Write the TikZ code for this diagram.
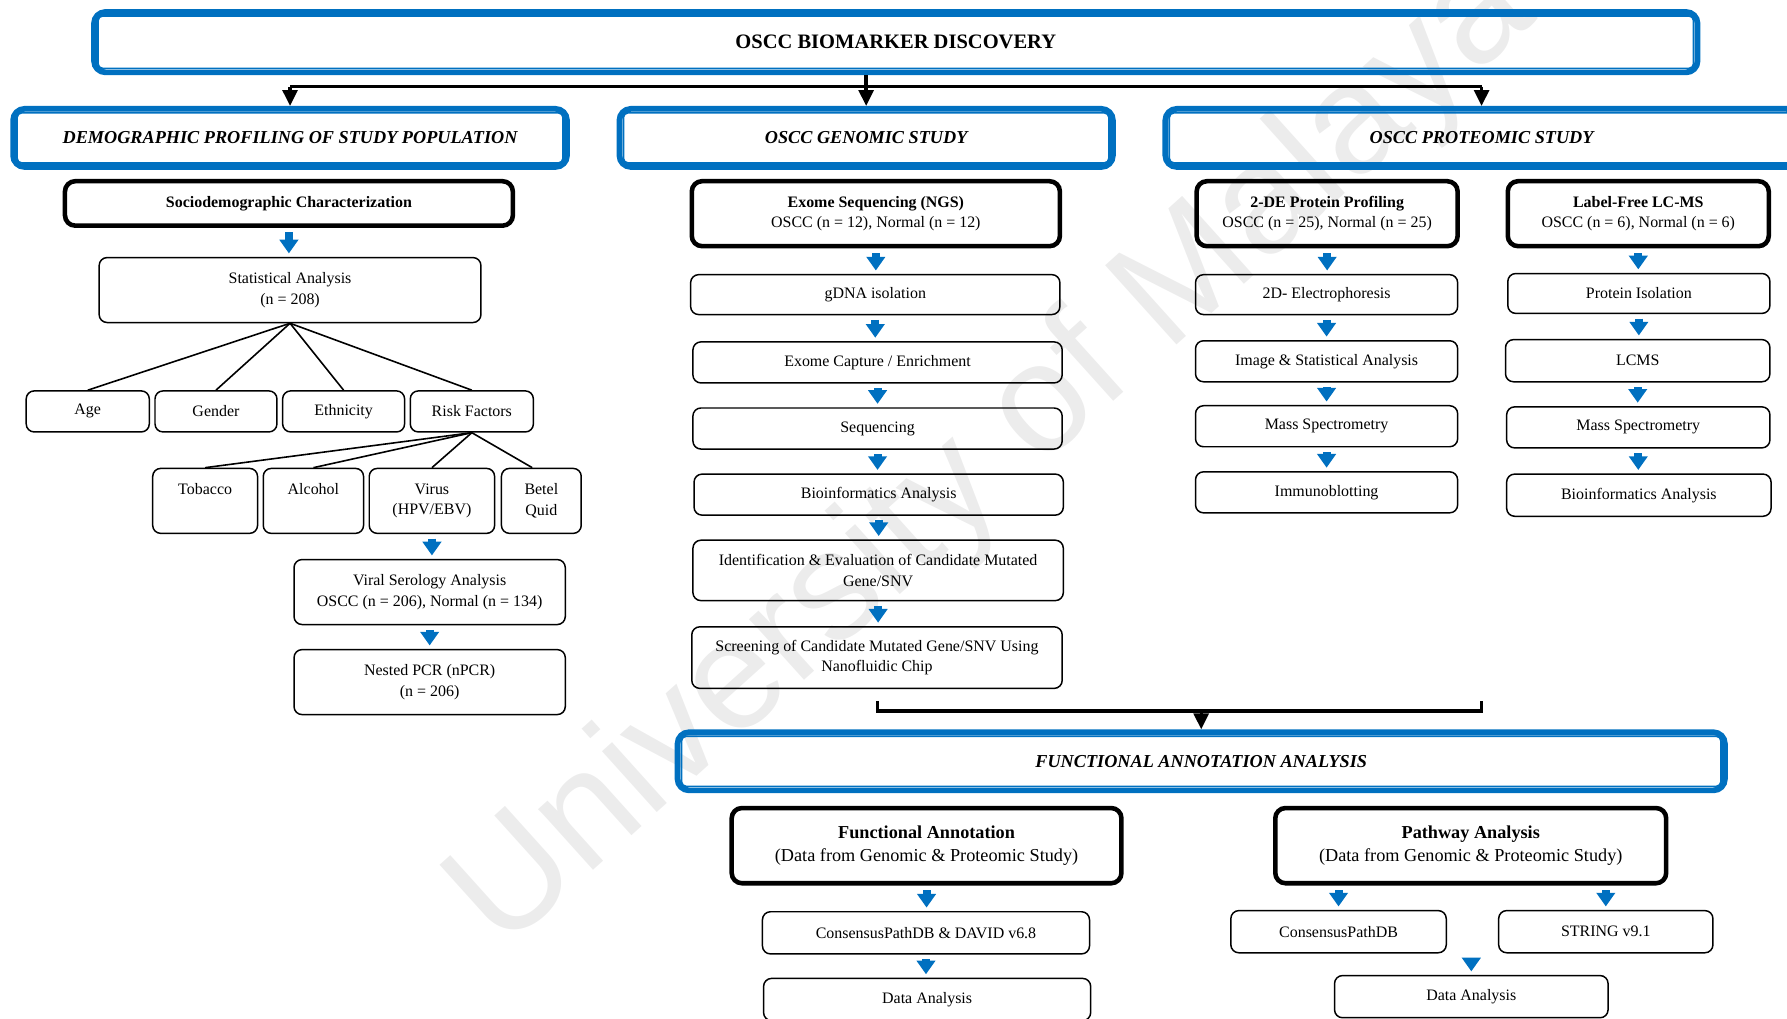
\documentclass[tikz,border=0pt]{standalone}
\usepackage{fontspec}
\setmainfont{Liberation Serif}
\newfontfamily\wmfont{Liberation Sans}
\usetikzlibrary{arrows.meta, positioning}
\definecolor{oblue}{HTML}{0070C0}

\begin{document}
\begin{tikzpicture}[x=1pt, y=-1pt,
    every node/.style={align=center, inner sep=1pt, font=\fontsize{14}{18}\selectfont},
    box/.style={draw, rounded corners=7pt, line width=1.3pt},
    mainbox/.style={draw, rounded corners=9pt, line width=4pt},
    hdr/.style={draw=oblue, rounded corners=10pt, line width=5pt, font=\fontsize{16}{19}\selectfont\bfseries\itshape},
    link/.style={draw, line width=1.4pt},
    bar/.style={draw, line width=3pt},
    down/.style={bar, -{Triangle[width=13pt,length=14pt]}},
    flow/.style={draw=oblue, line width=7pt, -{Triangle[width=16pt,length=12pt]}, shorten <=4pt, shorten >=3pt}
    ]

    \useasboundingbox (0,0) rectangle (1568,894);
    \clip (0,0) rectangle (1568,894);

    % watermark
    \node[rotate=42, text=gray!15, font=\wmfont\fontsize{136}{136}\selectfont] (wm) at (872,400) {University of Malaya};

    % headers
    \node[hdr, font=\fontsize{18}{22}\selectfont\bfseries, minimum width=1407, minimum height=53] (title) at (786,37) {OSCC BIOMARKER DISCOVERY};
    \node[hdr, minimum width=486, minimum height=51] (demo) at (254.5,121) {DEMOGRAPHIC PROFILING OF STUDY POPULATION};
    \node[hdr, minimum width=433, minimum height=51] (gen) at (760,121) {OSCC GENOMIC STUDY};
    \node[hdr, minimum width=555, minimum height=51] (prot) at (1300,121) {OSCC PROTEOMIC STUDY};
    \node[hdr, minimum width=919, minimum height=51] (funchdr) at (1054,668) {FUNCTIONAL ANNOTATION ANALYSIS};
    \foreach \n in {title, demo, gen, prot, funchdr}
      \draw[oblue, line width=1.5pt, rounded corners=4pt] ([shift={(6pt,-6pt)}]\n.north west) rectangle ([shift={(-6pt,6pt)}]\n.south east);

    % demographic profiling
    \node[mainbox, minimum width=393, minimum height=39] (socio) at (253.5,178.5) {\textbf{Sociodemographic Characterization}};
    \node[box, minimum width=335, minimum height=57] (stat) at (254.5,254.5) {Statistical Analysis\\(n = 208)};
    \node[box, minimum width=108, minimum height=36] (age) at (77,361) {Age};
    \node[box, minimum width=107, minimum height=36] (gender) at (189.5,361) {Gender};
    \node[box, minimum width=107, minimum height=36] (ethn) at (301.5,361) {Ethnicity};
    \node[box, minimum width=108, minimum height=36] (risk) at (414,361) {Risk Factors};
    \node[box, minimum width=92, minimum height=57] (tob) at (180,439.5) {Tobacco\\\phantom{(}};
    \node[box, minimum width=88, minimum height=57] (alc) at (275,439.5) {Alcohol\\\phantom{(}};
    \node[box, minimum width=110, minimum height=57] (virus) at (379,439.5) {Virus\\(HPV/EBV)};
    \node[box, minimum width=70, minimum height=57] (betel) at (475,439.5) {Betel\\Quid};
    \node[box, minimum width=238, minimum height=57] (sero) at (377,519.5) {Viral Serology Analysis\\OSCC (n = 206), Normal (n = 134)};
    \node[box, minimum width=238, minimum height=57] (npcr) at (377,598.5) {Nested PCR (nPCR)\\(n = 206)};

    % genomic study
    \node[mainbox, minimum width=323, minimum height=57] (exome) at (768.5,187.5) {\textbf{Exome Sequencing (NGS)}\\OSCC (n = 12), Normal (n = 12)};
    \node[box, minimum width=324, minimum height=35] (gdna) at (768,258.5) {gDNA isolation};
    \node[box, minimum width=324, minimum height=36] (capt) at (770,318) {Exome Capture / Enrichment};
    \node[box, minimum width=324, minimum height=36] (seq) at (770,376) {Sequencing};
    \node[box, minimum width=324, minimum height=36] (bioA) at (771,434) {Bioinformatics Analysis};
    \node[box, minimum width=325, minimum height=53] (ident) at (770.5,500.5) {Identification \& Evaluation of Candidate Mutated\\Gene/SNV};
    \node[box, minimum width=325, minimum height=54] (screen) at (769.5,577) {Screening of Candidate Mutated Gene/SNV Using\\Nanofluidic Chip};

    % proteomic study
    \node[mainbox, minimum width=229, minimum height=57] (twode) at (1164.5,187.5) {\textbf{2-DE Protein Profiling}\\OSCC (n = 25), Normal (n = 25)};
    \node[box, minimum width=230, minimum height=35] (elec) at (1164,258.5) {2D- Electrophoresis};
    \node[box, minimum width=230, minimum height=36] (img) at (1164,317) {Image \& Statistical Analysis};
    \node[box, minimum width=230, minimum height=36] (msA) at (1164,374) {Mass Spectrometry};
    \node[box, minimum width=230, minimum height=36] (immu) at (1164,432) {Immunoblotting};
    \node[mainbox, minimum width=229, minimum height=57] (lfree) at (1437.5,187.5) {\textbf{Label-Free LC-MS}\\OSCC (n = 6), Normal (n = 6)};
    \node[box, minimum width=230, minimum height=35] (isol) at (1438,257.5) {Protein Isolation};
    \node[box, minimum width=232, minimum height=37] (lcms) at (1437,316.5) {LCMS};
    \node[box, minimum width=231, minimum height=36] (msB) at (1437.5,375) {Mass Spectrometry};
    \node[box, minimum width=232, minimum height=37] (bioB) at (1438,434.5) {Bioinformatics Analysis};

    % functional annotation
    \node[mainbox, minimum width=342, minimum height=66, font=\fontsize{16}{21}\selectfont] (funct) at (813,742) {\textbf{Functional Annotation}\\(Data from Genomic \& Proteomic Study)};
    \node[mainbox, minimum width=343, minimum height=66, font=\fontsize{16}{21}\selectfont] (pathw) at (1290.5,742) {\textbf{Pathway Analysis}\\(Data from Genomic \& Proteomic Study)};
    \node[box, minimum width=287, minimum height=37] (cpdavid) at (812.5,818.5) {ConsensusPathDB \& DAVID v6.8};
    \node[box, minimum width=287, minimum height=37] (dataA) at (813.5,877) {Data Analysis};
    \node[box, minimum width=189, minimum height=37] (cpdb) at (1174.5,817.5) {ConsensusPathDB};
    \node[box, minimum width=188, minimum height=37] (string) at (1409,817.5) {STRING v9.1};
    \node[box, minimum width=240, minimum height=37] (dataB) at (1291,874.5) {Data Analysis};

    % black connectors
    \coordinate (bus) at (0,76);
    \coordinate (brkL) at (770,615);
    \coordinate (brkR) at (1300,615);
    \coordinate (brk) at (1056,624);
    \draw[bar] (demo.north |- bus) -- (prot.north |- bus);
    \draw[down] (demo.north |- bus) -- (demo.north);
    \draw[down] (prot.north |- bus) -- (prot.north);
    \draw[down] (gen.north |- title.south) -- (gen.north);
    \draw[bar] (brkL) |- (brk) -| (brkR);
    \draw[down] (funchdr.north |- brk) -- (funchdr.north);

    % tree lines
    \foreach \n in {age, gender, ethn, risk}
      \draw[link] (stat.south) -- (\n.north);
    \foreach \n in {tob, alc, virus}
      \draw[link] (risk.south) -- (\n.north);
    \draw[link] (risk.south) -- ([xshift=-8pt]betel.north);

    % blue flow arrows
    \draw[flow] (socio.south) -- (socio.south |- stat.north);
    \draw[flow] (virus.south) -- (virus.south |- sero.north);
    \draw[flow] (sero.south) -- (sero.south |- npcr.north);
    \foreach \a/\b in {exome/gdna, gdna/capt, capt/seq, seq/bioA, bioA/ident, ident/screen,
                       twode/elec, elec/img, img/msA, msA/immu,
                       lfree/isol, isol/lcms, lcms/msB, msB/bioB,
                       funct/cpdavid, cpdavid/dataA}
      \draw[flow] (\a.south) -- (\a.south |- \b.north);
    \draw[flow] (cpdb.north |- pathw.south) -- (cpdb.north);
    \draw[flow] (string.north |- pathw.south) -- (string.north);
    \draw[flow] (dataB.north |- cpdb.south) -- (dataB.north);

\end{tikzpicture}
\end{document}
